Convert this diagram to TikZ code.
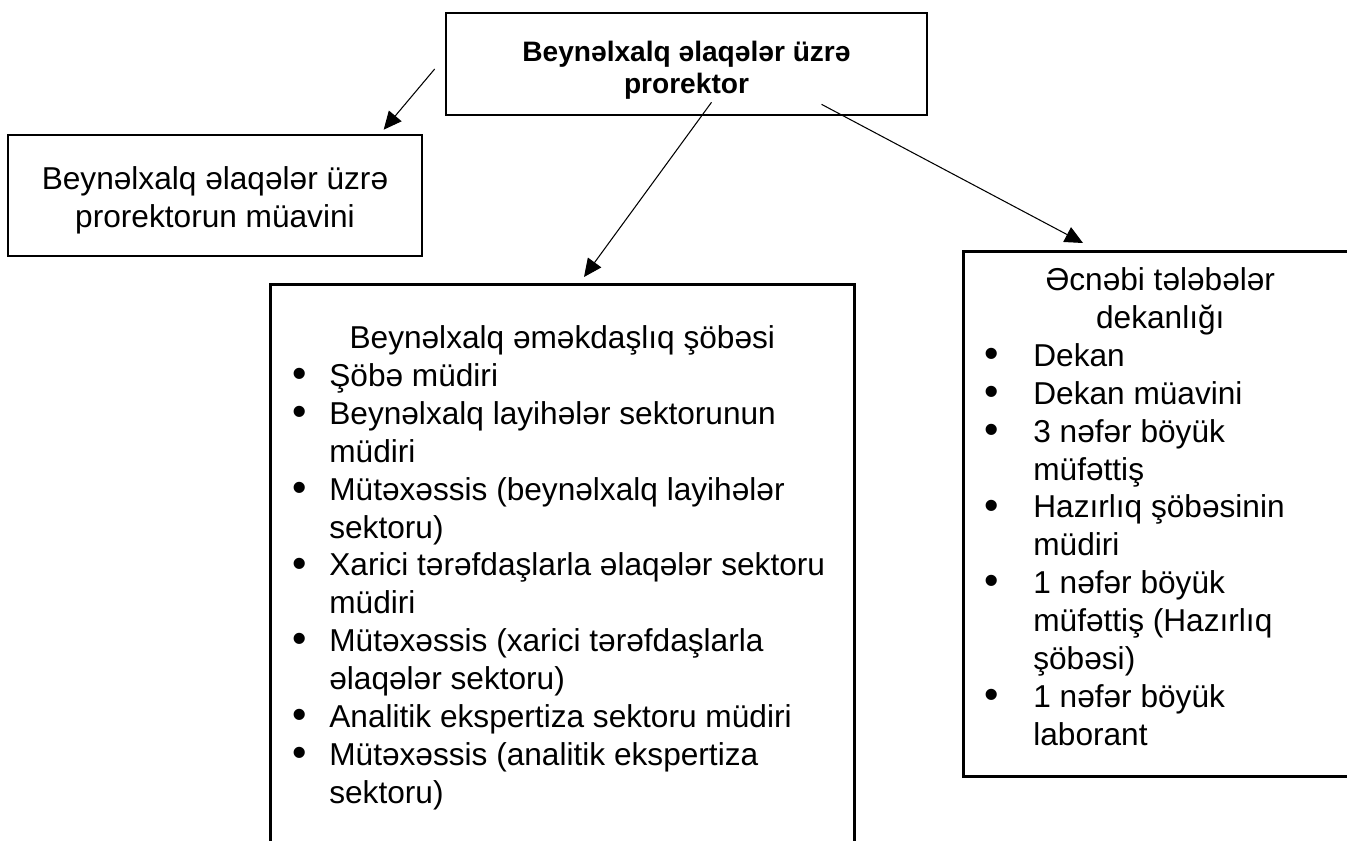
\documentclass[tikz,border=0pt]{standalone}
\usepackage{fontspec}
\setmainfont{Liberation Sans}
\usepackage{enumitem}
\usetikzlibrary{arrows.meta, positioning, calc}
\newcommand{\dotmark}{\raisebox{-0.6pt}[0pt][0pt]{\scalebox{1.3}{\textbullet}}}
\setlist[itemize]{label=\dotmark, topsep=0pt, partopsep=0pt, itemsep=0pt, parsep=0pt, align=right}
\newcommand{\boxgap}{\rule{0pt}{19pt}}

\begin{document}
\begin{tikzpicture}[
    box/.style={draw, line width=1.5pt, inner sep=0pt},
    txt/.style={font=\fontsize{18}{21.6}\selectfont},
    link/.style={-{Triangle[length=3.6mm, width=3.3mm]}, line width=0.6pt}
  ]
  \useasboundingbox (0,0) rectangle (26.94,-16.8);
  \clip (0,0) rectangle (26.94,-16.8);

  \node[box, minimum width=9.62cm, minimum height=2.04cm, align=center,
    font=\fontsize{16}{18.4}\selectfont\bfseries] (rector) at (13.73,-1.28)
    {\boxgap Beynəlxalq əlaqələr üzrə\\prorektor};
  \node[box, txt, minimum width=8.28cm, minimum height=2.42cm, align=center]
    (deputy) at (4.30,-3.91) {\boxgap Beynəlxalq əlaqələr üzrə\\prorektorun müavini};

  \node[box, txt, anchor=north west] (office) at (5.38,-5.66)
    {\parbox[t][11.6cm][t]{11.68cm}{\vspace*{0.82cm}
      {\centering Beynəlxalq əməkdaşlıq şöbəsi\par}
      \raggedright
      \begin{itemize}[leftmargin=1.18cm, labelsep=0.45cm]
        \item Şöbə müdiri
        \item Beynəlxalq layihələr sektorunun\newline müdiri
        \item Mütəxəssis (beynəlxalq layihələr\newline sektoru)
        \item Xarici tərəfdaşlarla əlaqələr sektoru\newline müdiri
        \item Mütəxəssis (xarici tərəfdaşlarla\newline əlaqələr sektoru)
        \item Analitik ekspertiza sektoru müdiri
        \item Mütəxəssis (analitik ekspertiza\newline sektoru)
      \end{itemize}}};

  \node[box, txt, anchor=north west] (dean) at (19.24,-5.0)
    {\parbox[t][10.5cm][t]{7.88cm}{\vspace*{0.32cm}
      {\centering Əcnəbi tələbələr\\ dekanlığı\par}
      \raggedright
      \begin{itemize}[leftmargin=1.4cm, labelsep=0.69cm]
        \item Dekan
        \item Dekan müavini
        \item 3 nəfər böyük\newline müfəttiş
        \item Hazırlıq şöbəsinin\newline müdiri
        \item 1 nəfər böyük\newline müfəttiş (Hazırlıq\newline şöbəsi)
        \item 1 nəfər böyük\newline laborant
      \end{itemize}}};

  % arrow ends
  \coordinate (s1) at ($(rector.west)+(-0.2,-0.1)$);
  \coordinate (e1) at ($(deputy.north west)+(7.54,0.08)$);
  \coordinate (s2) at ($(rector.south)+(0.5,0.28)$);
  \coordinate (e2) at ($(office.north west)+(6.3,0.12)$);
  \coordinate (s3) at ($(rector.south)+(2.7,0.24)$);
  \coordinate (e3) at ($(dean.north west)+(2.42,0.14)$);

  \draw[link] (s1) -- (e1);
  \draw[link] (s2) -- (e2);
  \draw[link] (s3) -- (e3);
\end{tikzpicture}
\end{document}
